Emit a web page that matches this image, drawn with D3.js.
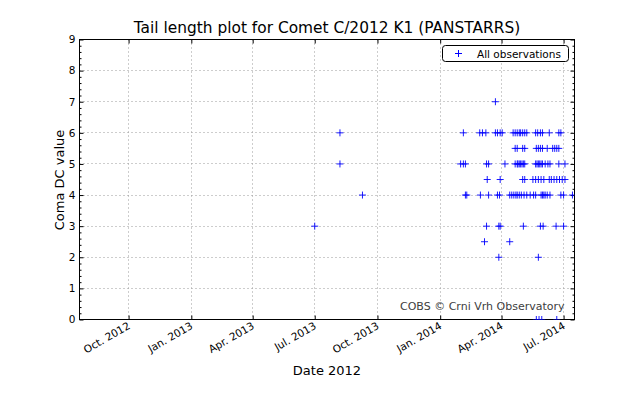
<!DOCTYPE html>
<html>
<head>
<meta charset="utf-8">
<script src="https://cdn.jsdelivr.net/npm/d3@7"></script>
<style>
  body { margin: 0; background: #fff; }
  svg { font-family: 'DejaVu Sans', sans-serif; }
</style>
</head>
<body>
<svg id="chart" width="640" height="400"></svg>
<script>
// Observation dates, grouped by coma DC value
var dates7 = ['2014-03-23'];
var dates6 = ['2013-08-07', '2014-02-04', '2014-02-28', '2014-03-04', '2014-03-09', '2014-03-23',
    '2014-03-26', '2014-03-30', '2014-04-02', '2014-04-18', '2014-04-21', '2014-04-24', '2014-04-27',
    '2014-04-29', '2014-05-02', '2014-05-05', '2014-05-08', '2014-05-21', '2014-05-24', '2014-05-28',
    '2014-05-31', '2014-06-10', '2014-06-24', '2014-06-27'];
var dates55 = ['2014-04-21', '2014-04-24', '2014-05-02', '2014-05-05', '2014-05-22', '2014-05-25',
    '2014-05-28', '2014-05-31', '2014-06-07', '2014-06-15', '2014-06-18', '2014-06-21', '2014-06-24'];
var dates5 = ['2013-08-07', '2014-01-31', '2014-02-04', '2014-02-07', '2014-03-10', '2014-03-13',
    '2014-04-06', '2014-04-21', '2014-04-24', '2014-04-25', '2014-04-27', '2014-04-29', '2014-05-01',
    '2014-05-03', '2014-05-05', '2014-05-21', '2014-05-23', '2014-05-25', '2014-05-27', '2014-05-29',
    '2014-05-31', '2014-06-04', '2014-06-08', '2014-06-11', '2014-06-24', '2014-07-03'];
var dates45 = ['2014-03-11', '2014-03-30', '2014-05-02', '2014-05-05', '2014-05-17', '2014-05-21',
    '2014-05-25', '2014-05-29', '2014-06-02', '2014-06-10', '2014-06-13', '2014-06-17', '2014-06-21',
    '2014-06-25', '2014-06-29', '2014-07-03'];
var dates4 = ['2013-09-09', '2014-02-07', '2014-02-09', '2014-03-01', '2014-03-13', '2014-03-26',
    '2014-03-29', '2014-04-13', '2014-04-16', '2014-04-19', '2014-04-22', '2014-04-24', '2014-04-27',
    '2014-04-30', '2014-05-04', '2014-05-08', '2014-05-13', '2014-05-18', '2014-05-21', '2014-05-29',
    '2014-05-31', '2014-06-02', '2014-06-04', '2014-06-07', '2014-06-11', '2014-06-27', '2014-07-01',
    '2014-07-14'];
var dates3 = ['2013-07-01', '2014-03-10', '2014-03-28', '2014-03-30', '2014-05-03', '2014-05-28',
    '2014-06-01', '2014-06-20', '2014-07-01'];
var dates25 = ['2014-03-07', '2014-04-13'];
var dates2 = ['2014-03-28', '2014-05-25'];
var dates0 = ['2014-05-22', '2014-05-26', '2014-05-30', '2014-06-21'];

var xTickDates = ['2012-10-01', '2013-01-01', '2013-04-01', '2013-07-01', '2013-10-01', '2014-01-01',
    '2014-04-01', '2014-07-01'];
var xTickLabels = ['Oct. 2012', 'Jan. 2013', 'Apr. 2013', 'Jul. 2013', 'Oct. 2013', 'Jan. 2014',
    'Apr. 2014', 'Jul. 2014'];
var xLimits = ['2012-07-21', '2014-07-17'];
var yTicks = [0, 1, 2, 3, 4, 5, 6, 7, 8, 9];

var parseDate = d3.timeParse('%Y-%m-%d');

// Build point list from the grouped arrays
var groups = [[7, dates7], [6, dates6], [5.5, dates55], [5, dates5], [4.5, dates45],
    [4, dates4], [3, dates3], [2.5, dates25], [2, dates2], [0, dates0]];
var data = [];
groups.forEach(function(g) {
    g[1].forEach(function(d) {
        data.push({date: parseDate(d), value: g[0]});
    });
});

var margin = {top: 39.5, left: 79.5};
var chartWidth = 495;
var chartHeight = 280;

var svg = d3.select('#chart');

var xScale = d3.scaleTime()
    .domain(xLimits.map(parseDate))
    .range([0, chartWidth]);

var yScale = d3.scaleLinear()
    .domain([0, 9])
    .range([chartHeight, 0]);

var chart = svg.append('g')
    .attr('transform', `translate(${margin.left}, ${margin.top})`);

chart.append('clipPath')
    .attr('id', 'plot-clip')
    .append('rect')
    .attr('width', chartWidth)
    .attr('height', chartHeight);

// Dotted grid
var tickDates = xTickDates.map(parseDate);
chart.append('g').selectAll('line')
    .data(tickDates)
    .join('line')
    .attr('x1', d => Math.round(xScale(d))).attr('x2', d => Math.round(xScale(d)))
    .attr('y1', 0).attr('y2', chartHeight)
    .attr('stroke', '#9a9a9a').attr('stroke-dasharray', '1,3');
chart.append('g').selectAll('line')
    .data(yTicks.slice(1, -1))
    .join('line')
    .attr('x1', 0).attr('x2', chartWidth)
    .attr('y1', d => Math.round(yScale(d))).attr('y2', d => Math.round(yScale(d)))
    .attr('stroke', '#9a9a9a').attr('stroke-dasharray', '1,3');

// Axes, ticks pointing inwards
var minorTicks = d3.range(0, 45).map(i => i / 5).filter(v => v % 1 !== 0);

var xAxis = chart.append('g')
    .attr('transform', `translate(0, ${chartHeight})`)
    .call(d3.axisBottom(xScale)
        .tickValues(tickDates)
        .tickFormat((d, i) => xTickLabels[i])
        .tickSizeInner(-4).tickSizeOuter(0).tickPadding(3));
xAxis.selectAll('text')
    .style('text-anchor', 'end')
    .attr('dx', '-0.25em')
    .attr('dy', '0.5em')
    .attr('transform', 'rotate(-30)');

chart.append('g')
    .call(d3.axisTop(xScale).tickValues(tickDates).tickFormat('')
        .tickSizeInner(-4).tickSizeOuter(0));

chart.append('g')
    .call(d3.axisLeft(yScale).tickValues(yTicks).tickFormat(d3.format('d'))
        .tickSizeInner(-4).tickSizeOuter(0).tickPadding(4));
chart.append('g')
    .call(d3.axisLeft(yScale).tickValues(minorTicks).tickFormat('')
        .tickSizeInner(-2).tickSizeOuter(0));
chart.append('g')
    .attr('transform', `translate(${chartWidth}, 0)`)
    .call(d3.axisRight(yScale).tickValues(yTicks).tickFormat('')
        .tickSizeInner(-4).tickSizeOuter(0));
chart.append('g')
    .attr('transform', `translate(${chartWidth}, 0)`)
    .call(d3.axisRight(yScale).tickValues(minorTicks).tickFormat('')
        .tickSizeInner(-2).tickSizeOuter(0));

chart.selectAll('.domain').remove();
chart.selectAll('.tick text')
    .attr('font-size', 10.5)
    .attr('font-family', 'DejaVu Sans')
    .attr('fill', '#000');

// Frame
chart.append('rect')
    .attr('width', chartWidth)
    .attr('height', chartHeight)
    .attr('fill', 'none')
    .attr('stroke', '#000');

// Observations as '+' markers
var plusPath = 'M-3.5,0H3.5M0,-3.5V3.5';
chart.append('g')
    .attr('clip-path', 'url(#plot-clip)')
    .selectAll('path')
    .data(data)
    .join('path')
    .attr('transform', d => `translate(${xScale(d.date)}, ${yScale(d.value)})`)
    .attr('d', plusPath)
    .attr('stroke', '#0000ff')
    .attr('stroke-width', 0.9)
    .attr('fill', 'none');

// Credit text
chart.append('text')
    .attr('x', chartWidth - 10)
    .attr('y', chartHeight - 10)
    .attr('text-anchor', 'end')
    .attr('font-size', 11)
    .attr('fill', '#404040')
    .text('COBS \u00a9 Crni Vrh Observatory');

// Legend
var legend = svg.append('g').attr('transform', 'translate(442.5, 45.5)');
legend.append('rect')
    .attr('width', 126)
    .attr('height', 16)
    .attr('rx', 3)
    .attr('fill', '#fff')
    .attr('stroke', '#000');
legend.append('path')
    .attr('transform', 'translate(16, 8)')
    .attr('d', plusPath)
    .attr('stroke', '#0000ff')
    .attr('fill', 'none');
legend.append('text')
    .attr('x', 34.5)
    .attr('y', 12)
    .attr('font-size', 10.5)
    .text('All observations');

// Titles
svg.append('text')
    .attr('x', 327)
    .attr('y', 33)
    .attr('text-anchor', 'middle')
    .attr('font-size', 15.4)
    .text('Tail length plot for Comet C/2012 K1 (PANSTARRS)');

svg.append('text')
    .attr('x', 327)
    .attr('y', 375)
    .attr('text-anchor', 'middle')
    .attr('font-size', 13)
    .text('Date 2012');

svg.append('text')
    .attr('transform', 'translate(64, 180) rotate(-90)')
    .attr('text-anchor', 'middle')
    .attr('font-size', 13)
    .text('Coma DC value');
</script>
</body>
</html>
